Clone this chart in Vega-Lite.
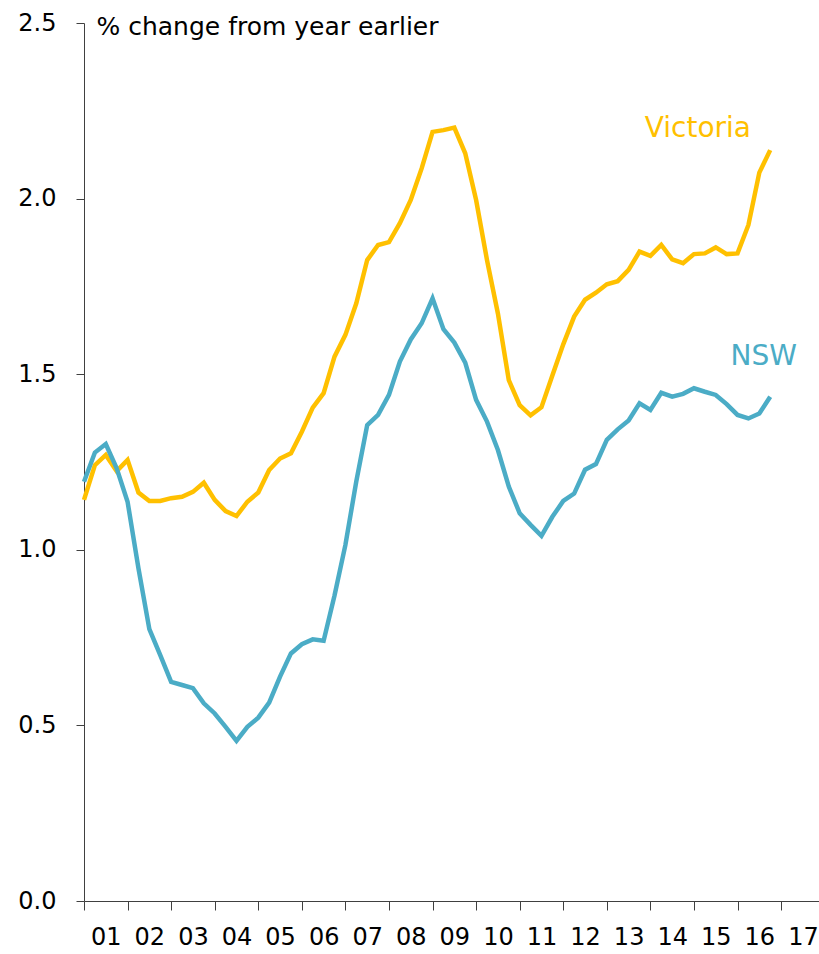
{
  "$schema": "https://vega.github.io/schema/vega-lite/v6.json",
  "width": 735,
  "height": 878,
  "autosize": {"type": "none"},
  "padding": {"left": 84, "top": 23, "right": 0, "bottom": 53},
  "background": "white",
  "config": {"view": {"stroke": null}, "axis": {"grid": false}},
  "layer": [
    {
      "data": {
        "values": [
          {"t": 2001.00, "Victoria": 1.142, "NSW": 1.194},
          {"t": 2001.25, "Victoria": 1.241, "NSW": 1.277},
          {"t": 2001.50, "Victoria": 1.270, "NSW": 1.301},
          {"t": 2001.75, "Victoria": 1.224, "NSW": 1.232},
          {"t": 2002.00, "Victoria": 1.256, "NSW": 1.137},
          {"t": 2002.25, "Victoria": 1.163, "NSW": 0.947},
          {"t": 2002.50, "Victoria": 1.139, "NSW": 0.774},
          {"t": 2002.75, "Victoria": 1.139, "NSW": 0.700},
          {"t": 2003.00, "Victoria": 1.147, "NSW": 0.624},
          {"t": 2003.25, "Victoria": 1.151, "NSW": 0.615},
          {"t": 2003.50, "Victoria": 1.165, "NSW": 0.606},
          {"t": 2003.75, "Victoria": 1.191, "NSW": 0.563},
          {"t": 2004.00, "Victoria": 1.142, "NSW": 0.534},
          {"t": 2004.25, "Victoria": 1.110, "NSW": 0.496},
          {"t": 2004.50, "Victoria": 1.096, "NSW": 0.456},
          {"t": 2004.75, "Victoria": 1.137, "NSW": 0.496},
          {"t": 2005.00, "Victoria": 1.163, "NSW": 0.522},
          {"t": 2005.25, "Victoria": 1.227, "NSW": 0.565},
          {"t": 2005.50, "Victoria": 1.260, "NSW": 0.639},
          {"t": 2005.75, "Victoria": 1.275, "NSW": 0.705},
          {"t": 2006.00, "Victoria": 1.336, "NSW": 0.731},
          {"t": 2006.25, "Victoria": 1.405, "NSW": 0.745},
          {"t": 2006.50, "Victoria": 1.446, "NSW": 0.741},
          {"t": 2006.75, "Victoria": 1.550, "NSW": 0.870},
          {"t": 2007.00, "Victoria": 1.612, "NSW": 1.014},
          {"t": 2007.25, "Victoria": 1.702, "NSW": 1.195},
          {"t": 2007.50, "Victoria": 1.825, "NSW": 1.355},
          {"t": 2007.75, "Victoria": 1.868, "NSW": 1.384},
          {"t": 2008.00, "Victoria": 1.876, "NSW": 1.441},
          {"t": 2008.25, "Victoria": 1.930, "NSW": 1.536},
          {"t": 2008.50, "Victoria": 1.996, "NSW": 1.599},
          {"t": 2008.75, "Victoria": 2.086, "NSW": 1.645},
          {"t": 2009.00, "Victoria": 2.190, "NSW": 1.716},
          {"t": 2009.25, "Victoria": 2.195, "NSW": 1.628},
          {"t": 2009.50, "Victoria": 2.202, "NSW": 1.590},
          {"t": 2009.75, "Victoria": 2.129, "NSW": 1.533},
          {"t": 2010.00, "Victoria": 1.996, "NSW": 1.427},
          {"t": 2010.25, "Victoria": 1.825, "NSW": 1.365},
          {"t": 2010.50, "Victoria": 1.673, "NSW": 1.284},
          {"t": 2010.75, "Victoria": 1.483, "NSW": 1.180},
          {"t": 2011.00, "Victoria": 1.412, "NSW": 1.104},
          {"t": 2011.25, "Victoria": 1.383, "NSW": 1.071},
          {"t": 2011.50, "Victoria": 1.406, "NSW": 1.040},
          {"t": 2011.75, "Victoria": 1.496, "NSW": 1.094},
          {"t": 2012.00, "Victoria": 1.585, "NSW": 1.139},
          {"t": 2012.25, "Victoria": 1.664, "NSW": 1.160},
          {"t": 2012.50, "Victoria": 1.712, "NSW": 1.228},
          {"t": 2012.75, "Victoria": 1.732, "NSW": 1.244},
          {"t": 2013.00, "Victoria": 1.756, "NSW": 1.313},
          {"t": 2013.25, "Victoria": 1.765, "NSW": 1.343},
          {"t": 2013.50, "Victoria": 1.797, "NSW": 1.368},
          {"t": 2013.75, "Victoria": 1.849, "NSW": 1.417},
          {"t": 2014.00, "Victoria": 1.837, "NSW": 1.398},
          {"t": 2014.25, "Victoria": 1.868, "NSW": 1.447},
          {"t": 2014.50, "Victoria": 1.827, "NSW": 1.436},
          {"t": 2014.75, "Victoria": 1.816, "NSW": 1.444},
          {"t": 2015.00, "Victoria": 1.842, "NSW": 1.460},
          {"t": 2015.25, "Victoria": 1.844, "NSW": 1.450},
          {"t": 2015.50, "Victoria": 1.861, "NSW": 1.441},
          {"t": 2015.75, "Victoria": 1.842, "NSW": 1.415},
          {"t": 2016.00, "Victoria": 1.844, "NSW": 1.384},
          {"t": 2016.25, "Victoria": 1.925, "NSW": 1.374},
          {"t": 2016.50, "Victoria": 2.074, "NSW": 1.388},
          {"t": 2016.75, "Victoria": 2.138, "NSW": 1.436}
        ]
      },
      "transform": [{"fold": ["Victoria", "NSW"], "as": ["series", "value"]}],
      "mark": {"type": "line", "strokeWidth": 4.5},
      "encoding": {
        "x": {
          "field": "t",
          "type": "quantitative",
          "scale": {"domain": [2001, 2017.87], "nice": false, "zero": false},
          "axis": {
            "title": null,
            "values": [2001, 2002, 2003, 2004, 2005, 2006, 2007, 2008, 2009, 2010, 2011, 2012, 2013, 2014, 2015, 2016, 2017],
            "labelExpr": "format(datum.value - 2000, '02d')",
            "labelOffset": 21.8,
            "tickSize": 9,
            "labelPadding": 15,
            "labelFont": "DejaVu Sans",
            "labelFontSize": 24,
            "labelColor": "#000000",
            "domainColor": "#404040",
            "tickColor": "#404040",
            "labelOverlap": false,
            "labelBound": false,
            "labelFlush": false
          }
        },
        "y": {
          "field": "value",
          "type": "quantitative",
          "scale": {"domain": [0, 2.5], "nice": false},
          "axis": {
            "values": [0, 0.5, 1, 1.5, 2, 2.5],
            "format": ".1f",
            "tickSize": 8,
            "labelPadding": 20,
            "labelFont": "DejaVu Sans",
            "labelFontSize": 24,
            "labelColor": "#000000",
            "domainColor": "#404040",
            "tickColor": "#404040",
            "title": "% change from year earlier",
            "titleAngle": 0,
            "titleX": 12,
            "titleY": 11,
            "titleAlign": "left",
            "titleBaseline": "alphabetic",
            "titleFont": "DejaVu Sans",
            "titleFontSize": 25,
            "titleFontWeight": "normal",
            "titleColor": "#000000"
          }
        },
        "color": {
          "field": "series",
          "type": "nominal",
          "scale": {"domain": ["Victoria", "NSW"], "range": ["#FFC000", "#4BACC6"]},
          "legend": null
        }
      }
    },
    {
      "data": {
        "values": [
          {"t": 2015.09, "value": 2.198, "series": "Victoria"},
          {"t": 2016.6, "value": 1.549, "series": "NSW"}
        ]
      },
      "mark": {"type": "text", "font": "DejaVu Sans", "fontSize": 28, "align": "center", "baseline": "middle"},
      "encoding": {
        "x": {"field": "t", "type": "quantitative"},
        "y": {"field": "value", "type": "quantitative"},
        "text": {"field": "series"},
        "color": {"field": "series", "type": "nominal"}
      }
    }
  ]
}
